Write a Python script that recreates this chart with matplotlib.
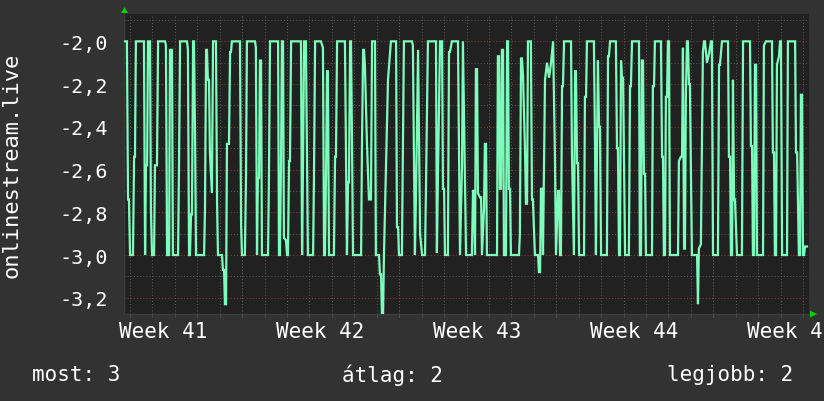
import matplotlib
matplotlib.use('Agg')
import matplotlib.pyplot as plt
from matplotlib.patches import Polygon
from matplotlib.ticker import FuncFormatter
import numpy as np

# ---- data (time in days from the left edge of the chart, value) ----
t_days = [
 0.04,0.13,0.18,0.22,0.27,0.40,0.45,0.49,0.53,0.89,0.94,0.98,1.03,1.07,1.16,1.20,1.25,1.34,1.38,1.47,
 1.52,1.83,1.87,1.92,2.01,2.05,2.14,2.18,2.41,2.45,2.50,2.81,2.85,2.90,2.94,2.99,3.03,3.08,3.12,3.17,
 3.21,3.57,3.61,3.66,3.70,3.74,3.79,3.83,3.92,3.97,4.10,4.15,4.19,4.37,4.41,4.46,4.50,4.55,4.59,4.68,
 4.73,4.77,4.81,5.17,5.22,5.26,5.39,5.44,5.48,5.84,5.88,5.93,5.97,6.02,6.06,6.11,6.15,6.42,6.46,6.51,
 6.87,6.91,6.95,7.00,7.04,7.09,7.13,7.22,7.27,7.31,7.36,7.40,7.45,7.89,7.94,7.98,8.03,8.11,8.16,8.20,
 8.43,8.47,8.52,8.78,8.87,8.92,8.96,9.01,9.05,9.09,9.14,9.36,9.41,9.45,9.50,9.85,9.94,9.99,10.03,10.08,
 10.12,10.17,10.21,10.57,10.61,10.66,10.70,10.74,10.83,10.92,11.01,11.06,11.19,11.23,11.37,11.41,11.46,11.50,11.55,11.59,
 11.68,11.77,11.90,12.13,12.17,12.22,12.26,12.39,12.48,12.84,12.88,12.97,13.02,13.11,13.20,13.29,13.42,13.46,13.55,13.91,
 13.95,14.00,14.09,14.18,14.22,14.27,14.31,14.44,14.49,14.53,14.62,14.89,14.98,15.07,15.11,15.20,15.25,15.51,15.56,15.60,
 15.65,15.69,15.74,15.78,15.87,15.92,15.96,16.05,16.09,16.14,16.18,16.63,16.67,16.72,16.76,16.81,16.85,16.90,16.94,17.03,
 17.08,17.12,17.16,17.21,17.25,17.61,17.65,17.70,17.74,17.79,17.88,17.92,17.97,18.01,18.14,18.19,18.23,18.32,18.46,18.50,
 18.55,18.59,18.64,18.68,18.77,18.86,18.95,19.04,19.13,19.21,19.26,19.35,19.39,19.44,19.48,19.53,19.57,19.62,19.93,19.97,
 20.06,20.11,20.15,20.20,20.24,20.29,20.51,20.55,20.60,20.64,20.95,21.00,21.04,21.13,21.18,21.22,21.27,21.53,21.58,21.62,
 21.67,21.93,21.98,22.02,22.07,22.11,22.16,22.20,22.25,22.34,22.51,22.56,22.60,22.65,22.96,23.00,23.05,23.09,23.14,23.18,
 23.23,23.27,23.54,23.58,23.63,23.67,23.94,23.99,24.03,24.07,24.12,24.16,24.21,24.25,24.30,24.34,24.70,24.74,24.83,24.88,
 24.92,24.97,25.01,25.05,25.10,25.14,25.19,25.23,25.32,25.55,25.59,25.63,25.72,25.81,25.86,25.90,25.99,26.08,26.17,26.21,
 26.26,26.48,26.53,26.57,26.66,26.93,26.97,27.02,27.06,27.11,27.15,27.20,27.24,27.33,27.55,27.60,27.91,27.95,28.00,28.04,
 28.09,28.13,28.18,28.22,28.49,28.53,28.62,28.89,28.93,28.98,29.02,29.07,29.11,29.20,29.25,29.29,29.34,29.56,29.60,29.92,
 29.96,30.01,30.09,30.14,30.18,30.23,30.27,30.32,30.36,30.45,
]
values = [
 -2.00,-2.00,-2.74,-2.74,-3.00,-3.00,-2.54,-2.54,-2.00,-2.00,-3.00,-2.58,-2.58,-2.00,-2.00,-2.79,-3.00,-3.00,-2.58,-2.58,
 -2.00,-2.00,-2.02,-3.00,-3.00,-2.04,-2.04,-3.00,-3.00,-2.61,-2.00,-2.00,-2.04,-3.00,-3.00,-2.81,-2.81,-2.00,-2.00,-2.47,
 -3.00,-3.00,-2.79,-2.04,-2.04,-2.18,-2.18,-2.52,-2.71,-2.00,-2.00,-2.76,-3.00,-3.00,-3.07,-3.07,-3.23,-3.23,-2.48,-2.48,
 -2.05,-2.05,-2.00,-2.00,-2.86,-3.00,-3.00,-2.63,-2.00,-2.00,-2.03,-3.00,-2.64,-2.64,-2.09,-2.09,-3.00,-3.00,-2.66,-2.00,
 -2.00,-3.00,-3.00,-2.58,-2.00,-2.00,-2.92,-2.93,-3.00,-3.00,-2.56,-2.56,-2.00,-2.00,-3.00,-2.58,-2.00,-2.00,-2.54,-3.00,
 -3.00,-2.63,-2.00,-2.00,-2.03,-3.00,-3.00,-2.60,-2.14,-2.14,-3.00,-3.00,-2.54,-2.54,-2.00,-2.00,-3.00,-2.66,-2.66,-2.00,
 -2.00,-2.52,-3.00,-3.00,-2.49,-2.04,-2.04,-2.11,-2.47,-2.74,-2.74,-2.00,-2.00,-3.00,-3.00,-3.09,-3.09,-3.28,-3.28,-3.00,
 -2.58,-2.18,-2.00,-2.00,-2.87,-2.87,-3.00,-3.00,-2.00,-2.00,-2.02,-3.00,-2.71,-2.04,-2.90,-3.00,-3.00,-2.71,-2.00,-2.00,
 -2.99,-2.61,-2.00,-2.00,-2.69,-2.69,-3.00,-3.00,-2.05,-2.05,-2.00,-2.00,-3.00,-2.58,-2.00,-2.65,-3.00,-3.00,-2.70,-2.70,
 -3.00,-2.13,-2.13,-2.71,-2.73,-2.73,-3.00,-2.78,-2.48,-2.48,-3.00,-3.00,-2.07,-2.07,-2.69,-2.69,-2.04,-2.04,-3.00,-3.00,
 -2.00,-2.00,-2.69,-2.69,-3.00,-3.00,-2.90,-2.08,-2.08,-2.16,-2.52,-2.76,-2.76,-2.00,-2.00,-2.74,-2.74,-3.00,-3.00,-3.08,
 -3.08,-2.69,-2.69,-3.00,-2.18,-2.10,-2.17,-2.10,-2.00,-2.52,-3.00,-2.70,-2.70,-3.00,-3.00,-2.21,-2.21,-2.00,-2.00,-2.52,
 -3.00,-2.14,-2.14,-2.57,-2.57,-3.00,-3.00,-2.26,-2.26,-2.00,-2.00,-2.49,-3.00,-2.09,-2.40,-2.40,-3.00,-3.00,-2.07,-2.07,
 -2.00,-2.00,-2.50,-2.50,-3.00,-3.00,-2.09,-2.17,-2.17,-3.00,-3.00,-2.21,-2.21,-2.00,-2.00,-3.00,-3.00,-2.09,-2.09,-2.62,
 -2.62,-3.00,-3.00,-2.21,-2.21,-2.00,-2.00,-2.54,-2.54,-3.00,-3.00,-2.26,-2.26,-2.00,-2.00,-3.00,-3.00,-2.56,-2.54,-2.54,
 -2.03,-2.97,-2.97,-2.26,-2.00,-2.00,-2.20,-2.20,-3.00,-3.00,-3.23,-2.97,-2.95,-2.05,-2.00,-2.00,-2.10,-2.06,-2.00,-2.00,
 -3.00,-3.00,-2.11,-2.11,-2.00,-2.00,-2.54,-2.54,-3.00,-3.00,-2.18,-2.74,-2.74,-3.00,-3.00,-2.00,-2.00,-2.49,-2.49,-3.00,
 -3.00,-2.11,-2.11,-3.00,-3.00,-2.02,-2.00,-2.00,-2.52,-2.52,-3.00,-3.00,-2.11,-2.07,-2.00,-2.00,-3.00,-3.00,-2.00,-2.00,
 -2.52,-2.52,-3.00,-3.00,-2.25,-2.25,-3.00,-3.00,-2.96,-2.96,
]
week_labels = ['Week 41', 'Week 42', 'Week 43', 'Week 44', 'Week 45']
week_label_days = [1.76, 8.76, 15.76, 22.76, 29.76]
week_start_days = [5.26, 12.26, 19.26, 26.26]
day_grid_days = [0.27 + k for k in range(31)]
y_ticks = [-2.0, -2.2, -2.4, -2.6, -2.8, -3.0, -3.2]
y_minor = [-1.9, -2.1, -2.3, -2.5, -2.7, -2.9, -3.1]
series_name = 'onlinestream.live'
summary_labels = ['most: 3', 'átlag: 2', 'legjobb: 2']

# ---- style ----
BG = '#323232'
PLOT_BG = '#212121'
LINE = '#7dfcbc'
MINOR = '#5c5c5c'
MAJOR = '#8a3b3b'
TXT = '#ffffff'
FONT = 'DejaVu Sans Mono'

W, H = 824, 402
fig = plt.figure(figsize=(W / 100, H / 100), dpi=100, facecolor=BG)
ax = fig.add_axes([124 / W, (H - 315) / H, 685 / W, 300 / H], facecolor=PLOT_BG)
ax.set_xlim(0, 30.54)
ax.set_ylim(-3.276, -1.872)

dot = (0, (1, 2))
ax.set_xticks(week_start_days)
ax.set_xticks(day_grid_days, minor=True)
ax.set_yticks(y_ticks)
ax.set_yticks(y_minor, minor=True)
ax.xaxis.grid(True, which='minor', color=MINOR, lw=0.75, ls=dot, zorder=1)
ax.yaxis.grid(True, which='minor', color=MINOR, lw=0.75, ls=dot, zorder=1)
ax.xaxis.grid(True, which='major', color=MAJOR, lw=0.75, ls=dot, zorder=1)
ax.yaxis.grid(True, which='major', color=MAJOR, lw=0.75, ls=dot, zorder=1)
ax.set_axisbelow(True)

ax.tick_params(axis='x', which='major', length=2.5, color=MAJOR, labelbottom=False)
ax.tick_params(axis='x', which='minor', length=2.0, color='#555555')
ax.tick_params(axis='y', which='both', length=0, pad=11.5, labelcolor=TXT, labelsize=14.5)
ax.yaxis.set_major_formatter(FuncFormatter(lambda v, _: f'{v:.1f}'.replace('.', ',')))
for lab in ax.get_yticklabels():
    lab.set_fontfamily(FONT)

for s in ['top', 'right']:
    ax.spines[s].set_visible(False)
for s in ['left', 'bottom']:
    ax.spines[s].set_color('#3c3c3c')
    ax.spines[s].set_linewidth(1.0)

ax.plot(t_days, values, color=LINE, lw=1.6, zorder=3, solid_joinstyle='miter')

xt = ax.get_xaxis_transform()
for d, lab in zip(week_label_days, week_labels):
    ax.text(d, -0.025, lab, transform=xt, ha='center', va='top', color=TXT,
            fontsize=15, family=FONT, clip_on=False)

fig.text(12 / W, 1 - 165 / H, series_name, rotation=90, ha='center', va='center',
         color=TXT, fontsize=15.8, family=FONT)

fig.text(32 / W, 1 - 375 / H, summary_labels[0], ha='left', va='center', color=TXT, fontsize=15, family=FONT)
fig.text(392 / W, 1 - 375 / H, summary_labels[1], ha='center', va='center', color=TXT, fontsize=15, family=FONT)
fig.text(793 / W, 1 - 375 / H, summary_labels[2], ha='right', va='center', color=TXT, fontsize=15, family=FONT)

# green arrows at axis ends
def px(x, y):
    return (x / W, 1 - y / H)
up = Polygon([px(121, 14), px(128, 14), px(124.5, 8)], closed=True, transform=fig.transFigure,
             facecolor='#00d000', edgecolor='none')
right = Polygon([px(810, 311.5), px(810, 318.5), px(817, 315)], closed=True, transform=fig.transFigure,
                facecolor='#00d000', edgecolor='none')
fig.add_artist(up)
fig.add_artist(right)

fig.savefig('out.png', dpi=100, facecolor=BG)
